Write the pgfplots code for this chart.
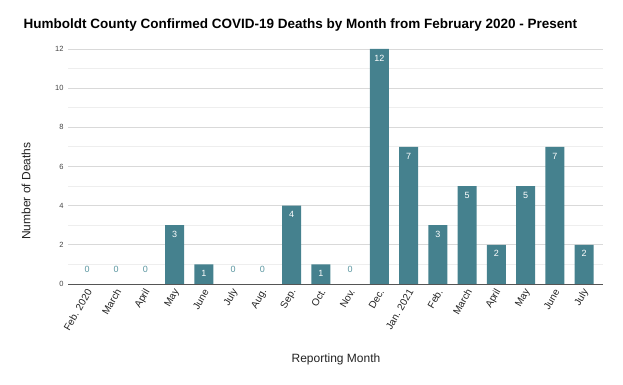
\documentclass[border=0pt]{standalone}
\usepackage{pgfplots}
\pgfplotsset{compat=1.18}
\usepackage{fontspec}
\setmainfont{Liberation Sans}
\definecolor{barcol}{HTML}{45818E}
\definecolor{zerocol}{HTML}{5A96A0}
\definecolor{majgrid}{HTML}{D9D9D9}
\definecolor{mingrid}{HTML}{EEEEEE}
\definecolor{axiscol}{HTML}{555555}
\definecolor{ticktext}{HTML}{444444}
\definecolor{labtext}{HTML}{222222}
\begin{document}
\begin{tikzpicture}
\useasboundingbox (0,0) rectangle (623pt,385pt);
\begin{axis}[
  at={(68pt,101pt)}, anchor=south west,
  scale only axis, width=535pt, height=235pt,
  xmin=-0.65, xmax=17.65, ymin=0, ymax=12,
  ybar, bar width=19pt,
  axis x line*=bottom, axis y line*=left,
  x axis line style={draw=axiscol, line width=0.8pt, -},
  y axis line style={draw=none, -},
  major tick length=0pt, minor tick length=0pt,
  ytick={0,2,...,12}, minor ytick={1,3,...,11},
  ymajorgrids, yminorgrids,
  major grid style={draw=majgrid, line width=0.9pt},
  minor grid style={draw=mingrid, line width=0.9pt},
  xtick={0,...,17},
  xticklabels={Feb. 2020,March,April,May,June,July,Aug.,Sep.,Oct.,Nov.,Dec.,Jan. 2021,Feb.,March,April,May,June,July},
  xticklabel style={font=\fontsize{10}{11}\selectfont, text=labtext, xshift=4pt, yshift=-3pt, rotate=60, anchor=east},
  yticklabel style={font=\fontsize{7.5}{8}\selectfont, text=ticktext, xshift=-1pt},
  /pgf/number format/assume math mode=true,
  clip=false,
]
\addplot[fill=barcol, draw=none, bar shift=0pt,
  nodes near coords,
  nodes near coords style={anchor=center, yshift=-9pt, text=white, font=\fontsize{9}{10}\selectfont},
] coordinates {(3,3) (4,1) (7,4) (8,1) (10,12) (11,7) (12,3) (13,5) (14,2) (15,5) (16,7) (17,2)};
\addplot[fill=none, draw=none, bar shift=0pt,
  nodes near coords,
  nodes near coords style={anchor=center, yshift=14.5pt, text=zerocol, font=\fontsize{9}{10}\selectfont},
] coordinates {(0,0) (1,0) (2,0) (5,0) (6,0) (9,0)};
\end{axis}
\node[anchor=west, font=\fontsize{13.5}{15}\selectfont\bfseries, text=black] at (20pt,360pt) {Humboldt County Confirmed COVID-19 Deaths by Month from February 2020 - Present};
\node[rotate=90, font=\fontsize{12}{14}\selectfont, text=labtext] at (26pt,194pt) {Number of Deaths};
\node[font=\fontsize{12}{14}\selectfont, text=labtext] at (336pt,26pt) {Reporting Month};
\end{tikzpicture}
\end{document}
